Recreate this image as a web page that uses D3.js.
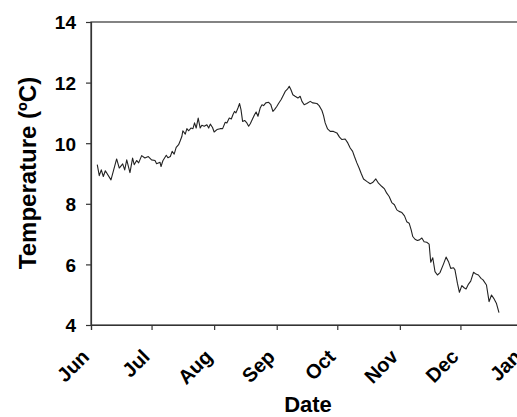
<!DOCTYPE html>
<html>
<head>
<meta charset="utf-8">
<script src="https://cdn.jsdelivr.net/npm/d3@7"></script>
<style>
  html, body { margin: 0; padding: 0; background: #fff; }
  svg { display: block; }
  text { font-family: "Liberation Sans", Arial, sans-serif; font-weight: bold; fill: #000; }
</style>
</head>
<body>
<svg id="chart" width="517" height="417"></svg>
<script>
// Logger record: days elapsed since 1 June, and water temperature (°C)
const dayOfRecord = [
  3.1, 4.1, 5.1, 6.1, 7.1, 9.9, 12.7, 14.0, 15.7, 16.7, 17.7, 19.3, 20.6, 21.4, 22.6, 23.6,
  25.1, 26.7, 28.4, 30.0, 31.7, 32.5, 34.2, 34.7, 35.6, 37.3, 38.1, 39.3, 40.2, 41.2, 42.2,
  43.4, 44.2, 45.0, 45.5, 46.7, 47.5, 48.4, 49.5, 50.5, 51.3, 52.1, 53.1, 54.1, 54.9, 56.1,
  57.4, 58.3, 59.1, 60.2, 61.0, 62.4, 64.0, 65.2, 66.5, 67.3, 68.5, 69.5, 70.3, 71.1, 71.8,
  72.8, 73.6, 74.3, 75.1, 76.1, 77.2, 78.1, 78.9, 80.0, 81.0, 81.8, 82.7, 83.8, 84.7, 85.5,
  86.6, 88.0, 89.1, 90.1, 90.9, 92.1, 92.9, 94.2, 95.4, 96.2, 97.4, 98.2, 99.0, 100.0, 101.1,
  102.5, 103.6, 104.5, 105.6, 106.9, 108.6, 109.9, 111.9, 113.0, 114.4, 115.2, 116.0, 117.2,
  118.5, 120.1, 121.8, 123.1, 124.3, 125.9, 127.2, 128.4, 129.6, 130.5, 131.7, 132.8, 133.8,
  135.0, 136.6, 138.3, 139.5, 141.1, 142.4, 144.1, 145.4, 146.5, 147.7, 149.0, 150.3, 151.5,
  152.6, 154.0, 155.3, 156.4, 157.6, 158.6, 159.4, 160.5, 161.7, 162.7, 163.9, 165.0, 166.3,
  167.5, 168.3, 169.3, 170.4, 171.6, 172.9, 174.6, 175.9, 177.1, 178.2, 179.6, 180.3, 181.5,
  182.5, 183.7, 184.8, 185.8, 187.0, 188.1, 189.5, 190.7, 191.9, 193.2, 194.2, 195.9, 197.2,
  198.4, 199.5, 200.8, 202.1
];
const temperature = [
  9.29, 8.93, 9.12, 8.90, 9.09, 8.79, 9.48, 9.18, 9.32, 9.12, 9.45, 9.03, 9.51, 9.29, 9.43, 9.35,
  9.59, 9.51, 9.56, 9.45, 9.43, 9.32, 9.37, 9.23, 9.42, 9.60, 9.52, 9.56, 9.73, 9.64, 9.86,
  9.95, 10.08, 10.22, 10.41, 10.30, 10.48, 10.41, 10.50, 10.48, 10.67, 10.50, 10.83, 10.50, 10.59, 10.56,
  10.61, 10.50, 10.63, 10.52, 10.37, 10.45, 10.48, 10.48, 10.69, 10.67, 10.83, 10.80, 10.94, 11.05, 11.00,
  11.16, 11.31, 11.11, 10.72, 10.75, 10.67, 10.56, 10.64, 10.80, 10.94, 11.03, 10.89, 11.16, 11.27, 11.24,
  11.33, 11.35, 11.27, 11.05, 11.11, 11.22, 11.31, 11.44, 11.60, 11.71, 11.79, 11.88, 11.77, 11.60, 11.55,
  11.49, 11.55, 11.38, 11.27, 11.31, 11.38, 11.33, 11.31, 11.24, 11.08, 10.91, 10.67, 10.47,
  10.39, 10.39, 10.34, 10.20, 10.12, 10.14, 10.01, 9.84, 9.73, 9.56, 9.35, 9.18, 9.01,
  8.82, 8.74, 8.66, 8.70, 8.82, 8.68, 8.57, 8.49, 8.35, 8.24, 8.04, 7.97, 7.80,
  7.75, 7.71, 7.60, 7.41, 7.36, 7.14, 6.92, 6.83, 6.79, 6.81, 6.87, 6.75, 6.73,
  6.67, 6.07, 6.22, 5.76, 5.65, 5.73, 6.01, 6.24, 6.09, 5.87, 5.89, 5.82, 5.38,
  5.08, 5.30, 5.23, 5.19, 5.35, 5.45, 5.74, 5.68, 5.65, 5.54, 5.49, 5.32, 4.77,
  4.99, 4.88, 4.72, 4.41
];
const yTicks = [4, 6, 8, 10, 12, 14];
const monthLabels = ["Jun", "Jul", "Aug", "Sep", "Oct", "Nov", "Dec", "Jan"];

const seasonStart = new Date(2010, 5, 1);
const seasonEnd = new Date(2011, 0, 1);
const DAY_MS = 864e5;

const series = dayOfRecord.map((d, i) => ({
  date: new Date(seasonStart.getTime() + d * DAY_MS),
  temp: temperature[i]
}));

const plot = { left: 91, top: 22, right: 523, bottom: 325 };
const svg = d3.select("#chart");

const x = d3.scaleTime().domain([seasonStart, seasonEnd]).range([plot.left, plot.right]);
const y = d3.scaleLinear().domain([4, 14]).range([plot.bottom, plot.top]);

const axisColor = "#333";

// Frame around the plotting area
svg.append("rect")
  .attr("x", plot.left).attr("y", plot.top)
  .attr("width", plot.right - plot.left).attr("height", plot.bottom - plot.top)
  .attr("fill", "none").attr("stroke", axisColor).attr("stroke-width", 1.2);

// Y axis
const yAxis = svg.append("g")
  .attr("transform", `translate(${plot.left},0)`)
  .call(d3.axisLeft(y).tickValues(yTicks).tickSize(5).tickPadding(10).tickFormat(d3.format("d")));
yAxis.select(".domain").attr("stroke", axisColor).attr("stroke-width", 1.2);
yAxis.selectAll(".tick line").attr("stroke", axisColor).attr("stroke-width", 1.2);
yAxis.selectAll(".tick text")
  .style("font-size", "19px")
  .attr("dy", "0.36em");

// X axis, one tick per month
const monthTicks = d3.timeMonth.range(seasonStart, d3.timeDay.offset(seasonEnd, 1));
const xAxis = svg.append("g")
  .attr("transform", `translate(0,${plot.bottom})`)
  .call(d3.axisBottom(x).tickValues(monthTicks).tickSize(5).tickFormat((d, i) => monthLabels[i]));
xAxis.select(".domain").attr("stroke", axisColor).attr("stroke-width", 1.2);
xAxis.selectAll(".tick line").attr("stroke", axisColor).attr("stroke-width", 1.2);
xAxis.selectAll(".tick text")
  .style("font-size", "20px")
  .attr("text-anchor", "end")
  .attr("dy", null)
  .attr("y", null)
  .attr("transform", "translate(-1,33) rotate(-45)");

// Temperature trace
const line = d3.line()
  .x(d => x(d.date))
  .y(d => y(d.temp));

svg.append("path")
  .datum(series)
  .attr("d", line)
  .attr("fill", "none")
  .attr("stroke", "#222")
  .attr("stroke-width", 1.1)
  .attr("stroke-linejoin", "round");

// Axis titles
svg.append("text")
  .attr("x", 308).attr("y", 412)
  .attr("text-anchor", "middle")
  .style("font-size", "22px")
  .text("Date");

svg.append("text")
  .attr("transform", "translate(36,173) rotate(-90)")
  .attr("text-anchor", "middle")
  .style("font-size", "24px")
  .text("Temperature (ºC)");
</script>
</body>
</html>
